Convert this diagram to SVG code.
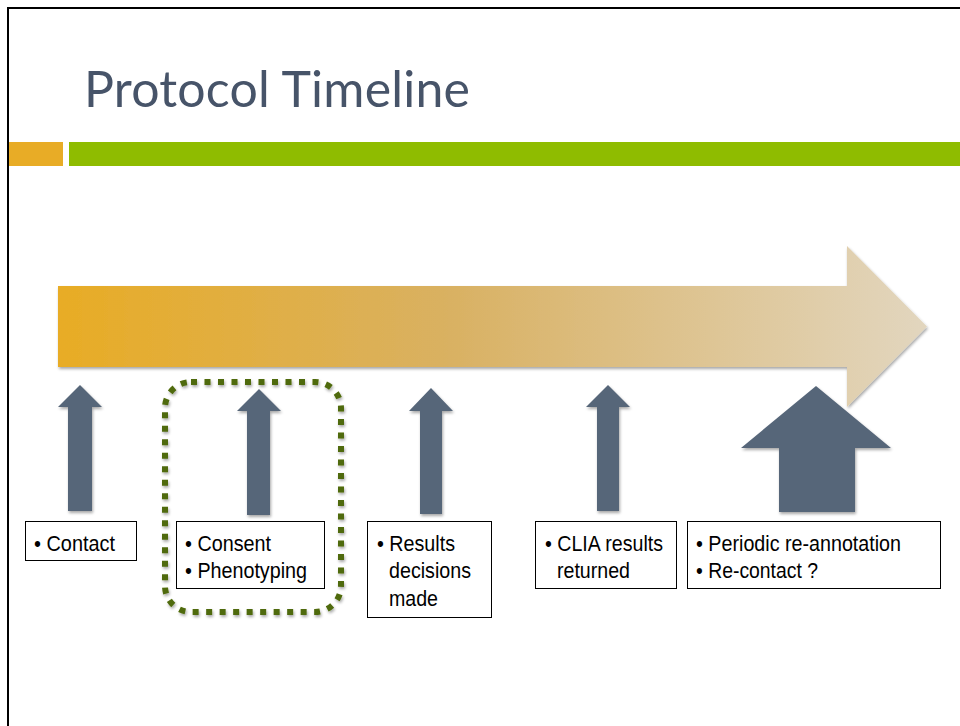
<svg xmlns="http://www.w3.org/2000/svg" width="960" height="726" viewBox="0 0 960 726">
  <defs>
    <linearGradient id="tl" x1="58" y1="0" x2="928" y2="0" gradientUnits="userSpaceOnUse">
      <stop offset="0" stop-color="#e8ac25"/>
      <stop offset="0.45" stop-color="#d9b162"/>
      <stop offset="1" stop-color="#e2d6bf"/>
    </linearGradient>
    <filter id="sh" x="-10%" y="-10%" width="130%" height="130%">
      <feGaussianBlur in="SourceAlpha" stdDeviation="1.5"/>
      <feOffset dx="1" dy="2" result="b"/>
      <feComponentTransfer><feFuncA type="linear" slope="0.35"/></feComponentTransfer>
      <feMerge><feMergeNode/><feMergeNode in="SourceGraphic"/></feMerge>
    </filter>
  </defs>
  <style>
    .up { fill: #566679; filter: url(#sh); }
    .box { fill: #ffffff; stroke: #000000; stroke-width: 1; }
    .lbl { font-family: "Liberation Sans", Arial, sans-serif; font-size: 22px; fill: #000000; }
    .title { font-family: Lato, "Open Sans", sans-serif; font-size: 50px; fill: #475469; }
  </style>
  <rect x="0" y="0" width="960" height="726" fill="#ffffff"/>
  <path d="M8 726 V8 H960" fill="none" stroke="#000000" stroke-width="2"/>

  <g id="title">
    <text class="title" x="84" y="107" textLength="386" lengthAdjust="spacing">Protocol Timeline</text>
  </g>
  <g id="header-bars">
    <rect x="9" y="142" width="54" height="24" fill="#e8ac26"/>
    <rect x="69" y="142" width="891" height="24" fill="#8fbc00"/>
  </g>

  <g id="timeline">
    <path d="M58 286 H847 V246 L927 326.5 L847 407 V367 H58 Z" fill="url(#tl)" filter="url(#sh)"/>
  </g>

  <g id="connectors">
    <path class="up" d="M80 385 L102 407 H92 V511 H68 V407 H58 Z"/>
    <path class="up" d="M259 389 L281 411 H270 V515 H247 V411 H237 Z"/>
    <path class="up" d="M431 388 L453 411 H442 V514 H420 V411 H409 Z"/>
    <path class="up" d="M608 385 L630 407 H619 V511 H597 V407 H586 Z"/>
    <path class="up" d="M816 386 L891 448 H855 V512 H779 V448 H741 Z"/>
  </g>

  <g id="highlight">
    <rect x="165" y="382" width="176" height="230" rx="26" ry="26" fill="none" stroke="#4f6a0b" stroke-width="6" stroke-dasharray="6 7.5" filter="url(#sh)"/>
  </g>

  <g id="contact">
    <rect class="box" x="25.5" y="521.5" width="111" height="39"/>
    <text class="lbl" x="34" y="551" textLength="81" lengthAdjust="spacingAndGlyphs">• Contact</text>
  </g>
  <g id="consent">
    <rect class="box" x="176.5" y="521.5" width="148" height="67"/>
    <text class="lbl" x="185" y="551" textLength="86" lengthAdjust="spacingAndGlyphs">• Consent</text>
    <text class="lbl" x="185" y="578" textLength="122" lengthAdjust="spacingAndGlyphs">• Phenotyping</text>
  </g>
  <g id="results">
    <rect class="box" x="367.5" y="521.5" width="124" height="96"/>
    <text class="lbl" x="377" y="551" textLength="78" lengthAdjust="spacingAndGlyphs">• Results</text>
    <text class="lbl" x="389" y="578" textLength="82" lengthAdjust="spacingAndGlyphs">decisions</text>
    <text class="lbl" x="389" y="606" textLength="49" lengthAdjust="spacingAndGlyphs">made</text>
  </g>
  <g id="clia">
    <rect class="box" x="535.5" y="521.5" width="141" height="67"/>
    <text class="lbl" x="545" y="551" textLength="118" lengthAdjust="spacingAndGlyphs">• CLIA results</text>
    <text class="lbl" x="557" y="578" textLength="73" lengthAdjust="spacingAndGlyphs">returned</text>
  </g>
  <g id="periodic">
    <rect class="box" x="687.5" y="521.5" width="253" height="67"/>
    <text class="lbl" x="696" y="551" textLength="205" lengthAdjust="spacingAndGlyphs">• Periodic re-annotation</text>
    <text class="lbl" x="696" y="578" textLength="122" lengthAdjust="spacingAndGlyphs">• Re-contact ?</text>
  </g>
</svg>
